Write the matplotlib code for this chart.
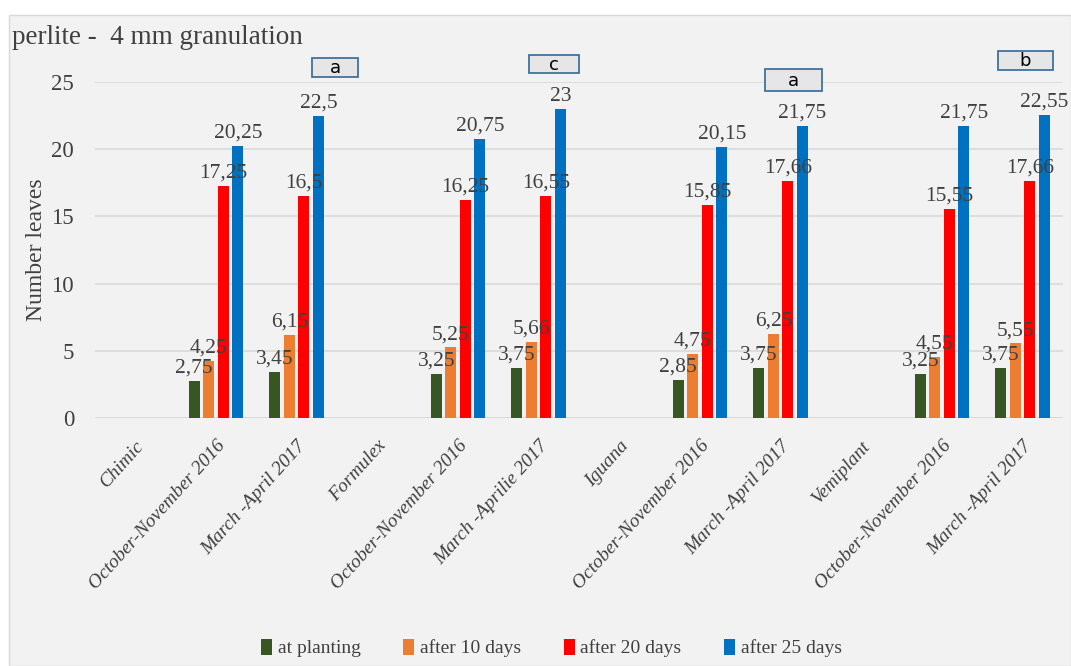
"""Number of leaves on perlite (4 mm granulation), grouped bars per season."""

import matplotlib

matplotlib.use("Agg")
import matplotlib.pyplot as plt
import numpy as np
from matplotlib.patches import Rectangle

CATEGORIES = [
    "Chimic",
    "October-November 2016",
    "March -April 2017",
    "Formulex",
    "October-November 2016",
    "March -Aprilie 2017",
    "Iguana",
    "October-November 2016",
    "March -April 2017",
    "Vemiplant",
    "October-November 2016",
    "March -April 2017",
]
SERIES = ["at planting", "after 10 days", "after 20 days", "after 25 days"]
COLORS = ["#375623", "#ED7D31", "#FF0000", "#0070C0"]

# nan = empty category (group header)
AT_PLANTING = [np.nan, 2.75, 3.45, np.nan, 3.25, 3.75, np.nan, 2.85, 3.75, np.nan, 3.25, 3.75]
AFTER_10 = [np.nan, 4.25, 6.15, np.nan, 5.25, 5.66, np.nan, 4.75, 6.25, np.nan, 4.55, 5.55]
AFTER_20 = [np.nan, 17.25, 16.5, np.nan, 16.25, 16.55, np.nan, 15.85, 17.66, np.nan, 15.55, 17.66]
AFTER_25 = [np.nan, 20.25, 22.5, np.nan, 20.75, 23.0, np.nan, 20.15, 21.75, np.nan, 21.75, 22.55]

# significance letters and where their boxes sit (category, x offset, y centre)
LETTERS = ["a", "c", "a", "b"]
LETTER_CATS = [2, 5, 8, 11]
LETTER_DX = [0.48, 0.19, 0.16, 0.03]
LETTER_Y = [26.1, 26.35, 25.15, 26.6]
LETTER_W = [0.57, 0.62, 0.70, 0.68]
LETTER_H = [1.40, 1.35, 1.65, 1.45]

TEXT_GRAY = "#404040"
SERIF = "Liberation Serif"


def fmt(value: float) -> str:
    return f"{value:g}".replace(".", ",")


def main() -> None:
    fig = plt.figure(figsize=(10.71, 6.66), dpi=100, facecolor="white")
    fig.patches.append(
        Rectangle(
            (9 / 1071, 0.0), 1 - 9 / 1071, 1 - 15 / 666,
            transform=fig.transFigure, facecolor="#f2f2f2",
            edgecolor="#d9d9d9", linewidth=1.0, zorder=-10,
        )
    )
    ax = fig.add_axes([95 / 1071, 1 - 418 / 666, (1063 - 95) / 1071, (418 - 82) / 666])
    ax.set_facecolor("none")

    x = np.arange(len(CATEGORIES))
    width = 0.135
    step = 0.18
    values = [AT_PLANTING, AFTER_10, AFTER_20, AFTER_25]
    for i, (name, color, vals) in enumerate(zip(SERIES, COLORS, values)):
        offset = (i - 1.5) * step
        vals = np.array(vals, dtype=float)
        ax.bar(x + offset, vals, width=width, color=color, label=name, zorder=3)
        for xi, v in zip(x + offset, vals):
            if np.isnan(v):
                continue
            ax.text(xi, v + 0.25, fmt(v), ha="center", va="bottom",
                    fontsize=15.5, family=SERIF, color=TEXT_GRAY, zorder=4)

    for letter, cat, dx, y, w, h in zip(LETTERS, LETTER_CATS, LETTER_DX, LETTER_Y, LETTER_W, LETTER_H):
        cx = cat + dx
        ax.add_patch(Rectangle((cx - w / 2, y - h / 2), w, h, facecolor="#e6e6e6",
                               edgecolor="#41719C", linewidth=1.3, clip_on=False, zorder=5))
        ax.text(cx, y - 0.05, letter, ha="center", va="center", fontsize=13,
                family="DejaVu Sans", color="black", clip_on=False, zorder=6)

    ax.set_xlim(-0.5, len(CATEGORIES) - 0.5)
    ax.set_ylim(0, 25)
    ax.set_yticks([0, 5, 10, 15, 20, 25])
    ax.grid(axis="y", color="#d9d9d9", linewidth=1.2, zorder=0)
    for side in ["top", "right", "left", "bottom"]:
        ax.spines[side].set_visible(False)
    ax.axhline(0, color="#d9d9d9", linewidth=1.2, zorder=1)
    ax.tick_params(axis="both", length=0)
    ax.tick_params(axis="y", pad=15)
    for label in ax.get_yticklabels():
        label.set_fontfamily(SERIF)
        label.set_fontsize(16.5)
        label.set_color(TEXT_GRAY)

    ax.set_xticks(x)
    ax.set_xticklabels(CATEGORIES, rotation=48, ha="right", va="top",
                       rotation_mode="anchor", fontsize=14, family=SERIF,
                       style="italic", color=TEXT_GRAY)
    ax.tick_params(axis="x", pad=14)

    ax.set_ylabel("Number leaves", fontsize=17, family=SERIF, color=TEXT_GRAY)
    ax.yaxis.set_label_coords(-48 / 968, 0.5)

    fig.text(12 / 1071, 1 - 38 / 666, "perlite -  4 mm granulation", ha="left",
             va="center", fontsize=19.5, family=SERIF, color=TEXT_GRAY)

    legend = fig.legend(loc="center", bbox_to_anchor=(0.515, 1 - 648 / 666), ncol=4,
                        frameon=False, handlelength=0.55, handleheight=0.9,
                        handletextpad=0.3, columnspacing=2.2,
                        prop={"family": SERIF, "size": 14})
    for text in legend.get_texts():
        text.set_color(TEXT_GRAY)

    fig.savefig("out.png", dpi=100, facecolor=fig.get_facecolor())
    plt.close(fig)


if __name__ == "__main__":
    main()
